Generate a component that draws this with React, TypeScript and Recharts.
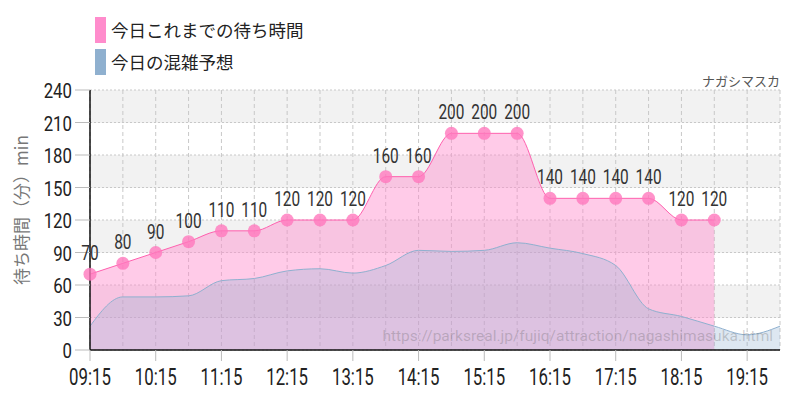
import React from 'react';
import { ComposedChart, Area, XAxis, YAxis, CartesianGrid, LabelList } from 'recharts';

const times = ['09:15','09:45','10:15','10:45','11:15','11:45','12:15','12:45','13:15','13:45','14:15','14:45','15:15','15:45','16:15','16:45','17:15','17:45','18:15','18:45','19:15','19:45'];
const waitTimes: (number | null)[] = [70,80,90,100,110,110,120,120,120,160,160,200,200,200,140,140,140,140,120,120,null,null];
const forecast = [22,49,49,50,64,66,73,75,71,78,92,91,92,99,94,89,78,38,31,22,14,22];
const yTicks = [0,30,60,90,120,150,180,210,240];
const hourlyTicks = ['09:15','10:15','11:15','12:15','13:15','14:15','15:15','16:15','17:15','18:15','19:15'];

const legendItems = [
  { label: '今日これまでの待ち時間', color: '#ff8ccc' },
  { label: '今日の混雑予想', color: '#8fb0cf' },
];

const data = times.map((t, i) => ({ time: t, wait: waitTimes[i], forecast: forecast[i] }));

const NUM_FONT = "Roboto, 'Noto Sans', sans-serif";
const JP_FONT = "'Noto Sans CJK JP', 'Noto Sans', sans-serif";

const Narrow = ({ x, y, children, size, sx, fill, anchor }: any) => (
  <text
    transform={`translate(${x},${y}) scale(${sx},1)`}
    textAnchor={anchor}
    fontFamily={NUM_FONT}
    fontSize={size}
    fill={fill}
  >
    {children}
  </text>
);

const XTick = (props: any) => {
  const { x, y, payload } = props;
  if (!hourlyTicks.includes(payload.value)) return <g />;
  return (
    <g>
      <line x1={x} x2={x} y1={y} y2={y + 11} stroke="#bbb" strokeWidth={1} />
      <Narrow x={x} y={y + 35} size={24} sx={0.7} fill="#222" anchor="middle">{payload.value}</Narrow>
    </g>
  );
};

const YTick = (props: any) => {
  const { x, y, payload } = props;
  return (
    <Narrow x={x} y={y + 8} size={21} sx={0.8} fill="#222" anchor="end">{payload.value}</Narrow>
  );
};

const ValueLabel = (props: any) => {
  const { x, y, value } = props;
  if (value == null) return null;
  return (
    <Narrow x={x} y={y - 14} size={20} sx={0.77} fill="#333" anchor="middle">{value}</Narrow>
  );
};

const Dot = (props: any) => {
  const { cx, cy, value } = props;
  if (value == null || cy == null) return <g />;
  return <circle cx={cx} cy={cy} r={6.5} fill="#ff78bd" fillOpacity={0.8} />;
};

export default function App() {
  return (
    <div style={{ position: 'absolute', left: 0, top: 0, width: 800, height: 400, background: '#fff' }}>
      <ComposedChart width={800} height={400} data={data} margin={{ top: 90, right: 20, bottom: 0, left: 0 }}>
        <CartesianGrid
          vertical={false}
          stroke="#c8c8c8"
          strokeDasharray="2 2"
          horizontalFill={['#f2f2f2', '#ffffff']}
        />
        <CartesianGrid
          horizontal={false}
          stroke="#c8c8c8"
          strokeDasharray="4 3"
        />
        <XAxis
          dataKey="time"
          height={50}
          interval={0}
          tickLine={false}
          tickSize={0}
          tickMargin={0}
          tick={<XTick />}
          axisLine={{ stroke: '#111', strokeWidth: 1.5 }}
          padding={{ left: 0, right: 0 }}
        />
        <YAxis
          width={90}
          domain={[0, 240]}
          ticks={yTicks}
          interval={0}
          tickSize={15}
          tickMargin={3}
          tickLine={{ stroke: '#bbb' }}
          axisLine={{ stroke: '#111', strokeWidth: 1.5 }}
          tick={<YTick />}
        />
        <Area
          type="monotone"
          dataKey="wait"
          stroke="#ff5fae"
          strokeWidth={1}
          fill="#ff8ccc"
          fillOpacity={0.45}
          isAnimationActive={false}
          dot={<Dot />}
          activeDot={false}
        >
          <LabelList dataKey="wait" content={<ValueLabel />} />
        </Area>
        <Area
          type="monotone"
          dataKey="forecast"
          stroke="#8fb0cf"
          strokeWidth={1}
          fill="#8fb0cf"
          fillOpacity={0.3}
          isAnimationActive={false}
          dot={false}
          activeDot={false}
        />
      </ComposedChart>

      <div style={{ position: 'absolute', left: 95, top: 14, fontFamily: JP_FONT }}>
        {legendItems.map((it) => (
          <div key={it.label} style={{ display: 'flex', alignItems: 'center', height: 32 }}>
            <div style={{ width: 11, height: 26, background: it.color, marginRight: 5 }} />
            <span style={{ fontSize: 17.5, color: '#222', lineHeight: '26px' }}>{it.label}</span>
          </div>
        ))}
      </div>

      <div style={{ position: 'absolute', right: 20, top: 71, fontFamily: JP_FONT, fontSize: 13, color: '#555' }}>ナガシマスカ</div>

      <div style={{ position: 'absolute', right: 27, top: 327, fontFamily: "Roboto, sans-serif", fontSize: 15.5, color: 'rgba(90,90,90,0.28)', whiteSpace: 'nowrap' }}>
        https://parksreal.jp/fujiq/attraction/nagashimasuka.html
      </div>

      <div style={{
        position: 'absolute', left: 20, top: 210, transform: 'translate(-50%, -50%) rotate(-90deg)',
        fontFamily: JP_FONT, fontSize: 17, color: '#777', whiteSpace: 'nowrap',
      }}>
        待ち時間（分）min
      </div>
    </div>
  );
}
